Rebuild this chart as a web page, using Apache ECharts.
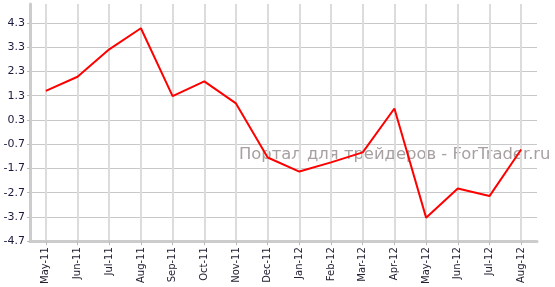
<!DOCTYPE html>
<html><head><meta charset="utf-8">
<script src="https://cdn.jsdelivr.net/npm/echarts@6/dist/echarts.min.js"></script>
<style>html,body{margin:0;padding:0;background:#fff}#c{width:555px;height:287px}</style>
</head><body><div id="c"></div>
<script>
const categories = ['May-11','Jun-11','Jul-11','Aug-11','Sep-11','Oct-11','Nov-11','Dec-11','Jan-12','Feb-12','Mar-12','Apr-12','May-12','Jun-12','Jul-12','Aug-12'];
const values = [1.50, 2.08, 3.21, 4.08, 1.28, 1.89, 0.98, -1.25, -1.83, -1.45, -1.04, 0.77, -3.73, -2.53, -2.84, -0.92];
const watermark = 'Портал для трейдеров - ForTrader.ru';

const chart = echarts.init(document.getElementById('c'), null, {renderer: 'canvas'});
chart.setOption({
  animation: false,
  backgroundColor: '#fff',
  grid: {left: 30, right: 18, top: 4, bottom: 45, containLabel: false},
  xAxis: {
    type: 'category',
    data: categories,
    boundaryGap: true,
    axisLine: {show: true, onZero: false, lineStyle: {color: '#cccccc', width: 3}},
    axisTick: {show: true, alignWithLabel: true, length: 4, lineStyle: {color: '#bbbbbb'}},
    axisLabel: {rotate: 90, interval: 0, margin: 6, fontSize: 10, fontFamily: 'DejaVu Sans', color: '#222233'},
    splitLine: {show: true, alignWithLabel: true, lineStyle: {color: '#dcdcdc', width: 2}}
  },
  yAxis: {
    type: 'value',
    min: -4.7,
    max: 5.08,
    interval: 1,
    axisLine: {show: true, lineStyle: {color: '#cccccc', width: 3}},
    axisTick: {show: true, length: 3, lineStyle: {color: '#bbbbbb'}},
    axisLabel: {showMaxLabel: false, margin: 5, fontSize: 11, fontFamily: 'DejaVu Sans', color: '#1a1a40',
      formatter: v => v.toFixed(1)},
    splitLine: {show: true, showMaxLine: false, lineStyle: {color: '#c8c8c8', width: 1}}
  },
  graphic: [{
    type: 'text', left: 239, top: 147, z: 0,
    style: {text: watermark, fontSize: 16.4, fontFamily: 'DejaVu Sans', fill: '#a8a0a0'}
  }],
  series: [{
    type: 'line',
    data: values,
    symbol: 'none',
    zlevel: 1,
    lineStyle: {color: '#ff0000', width: 2}
  }]
});
</script></body></html>
